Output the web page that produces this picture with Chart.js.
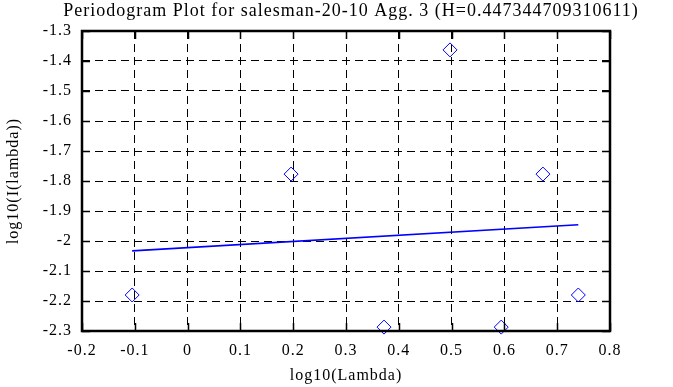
<!DOCTYPE html>
<html>
<head>
<meta charset="utf-8">
<script src="https://cdn.jsdelivr.net/npm/chart.js@4.4.1/dist/chart.umd.min.js"></script>
<style>
  html, body { margin: 0; padding: 0; background: #fff; }
  #wrap { width: 673px; height: 387px; }
</style>
</head>
<body>
<div id="wrap"><canvas id="periodogram" width="673" height="387"></canvas></div>
<script>
// log10(lambda) vs log10(I(lambda))
const logLambda = [-0.105, 0.196, 0.372, 0.497, 0.594, 0.673, 0.740];
const logPower = [-2.180, -1.777, -2.287, -1.363, -2.287, -1.777, -2.180];

// fitted line end points
const fitX = [-0.105, 0.740];
const fitY = [-2.033, -1.946];

const xTicks = [-0.2, -0.1, 0, 0.1, 0.2, 0.3, 0.4, 0.5, 0.6, 0.7, 0.8];
const yTicks = [-2.3, -2.2, -2.1, -2, -1.9, -1.8, -1.7, -1.6, -1.5, -1.4, -1.3];

const titleText = 'Periodogram Plot for salesman-20-10 Agg. 3 (H=0.447344709310611)';
const serif = 'Liberation Serif';

// the old plot's text is spaced a bit wider than plain Times
const spacing = {
  id: 'spacing',
  beforeUpdate(chart) { chart.ctx.letterSpacing = '1px'; },
  beforeDraw(chart) { chart.ctx.letterSpacing = '1px'; },
  afterLayout(chart) {
    // center the title a little right, like the original
    const t = chart.titleBlock;
    t.left = 29; t.right = 673; t.width = 644;
  }
};

// solid frame round the plot with inward ticks on every side
const framePlugin = {
  id: 'frame',
  afterDatasetsDraw(chart) {
    const { ctx, chartArea: a, scales } = chart;
    const len = 8;
    ctx.save();
    ctx.strokeStyle = '#000';
    ctx.lineWidth = 1.5;
    ctx.beginPath();
    xTicks.forEach(v => {
      const px = Math.round(scales.x.getPixelForValue(v)) + 0.5;
      ctx.moveTo(px, a.bottom); ctx.lineTo(px, a.bottom - len);
      ctx.moveTo(px, a.top); ctx.lineTo(px, a.top + len);
    });
    yTicks.forEach(v => {
      const py = Math.round(scales.y.getPixelForValue(v)) + 0.5;
      ctx.moveTo(a.left, py); ctx.lineTo(a.left + len, py);
      ctx.moveTo(a.right, py); ctx.lineTo(a.right - len, py);
    });
    ctx.stroke();
    ctx.lineWidth = 2.5;
    ctx.strokeRect(a.left, a.top, a.right - a.left, a.bottom - a.top);
    ctx.restore();
  }
};

const fmt = v => String(Math.round(v * 10) / 10);

new Chart(document.getElementById('periodogram'), {
  type: 'scatter',
  data: {
    datasets: [
      {
        type: 'line',
        data: fitX.map((x, i) => ({ x: x, y: fitY[i] })),
        borderColor: '#0000ff',
        borderWidth: 1.6,
        pointRadius: 0,
        fill: false
      },
      {
        data: logLambda.map((x, i) => ({ x: x, y: logPower[i] })),
        pointStyle: 'rectRot',
        pointRadius: 7,
        borderColor: '#0000ff',
        backgroundColor: 'rgba(0,0,0,0)',
        pointBorderWidth: 1,
        clip: false
      }
    ]
  },
  options: {
    responsive: false,
    animation: false,
    layout: { padding: { left: 0, right: 63, top: 0, bottom: 0 } },
    plugins: {
      legend: { display: false },
      tooltip: { enabled: false },
      title: {
        display: true,
        text: titleText,
        color: '#000',
        font: { family: serif, size: 18, weight: 'normal' },
        padding: { top: 0, bottom: 9.4 }
      }
    },
    scales: {
      x: {
        type: 'linear',
        min: -0.2,
        max: 0.8,
        afterBuildTicks: s => { s.ticks = xTicks.map(v => ({ value: v })); },
        afterFit: s => { s.height = 56; },
        grid: { color: '#000', lineWidth: 1, drawTicks: false },
        border: { display: false, dash: [8, 5] },
        ticks: {
          color: '#000',
          padding: 10,
          maxRotation: 0,
          font: { family: serif, size: 16 },
          callback: fmt
        },
        title: {
          display: true,
          text: 'log10(Lambda)',
          color: '#000',
          font: { family: serif, size: 16 },
          padding: { top: 0, bottom: 2 }
        }
      },
      y: {
        type: 'linear',
        min: -2.3,
        max: -1.3,
        afterBuildTicks: s => { s.ticks = yTicks.map(v => ({ value: v })); },
        afterFit: s => { s.width = 82; },
        grid: { color: '#000', lineWidth: 1, drawTicks: false },
        border: { display: false, dash: [8, 5] },
        ticks: {
          color: '#000',
          padding: 10,
          font: { family: serif, size: 16 },
          callback: fmt
        },
        title: {
          display: true,
          text: 'log10(I(lambda))',
          color: '#000',
          font: { family: serif, size: 16 },
          padding: { top: 4, bottom: 0 }
        }
      }
    }
  },
  plugins: [spacing, framePlugin]
});
</script>
</body>
</html>
